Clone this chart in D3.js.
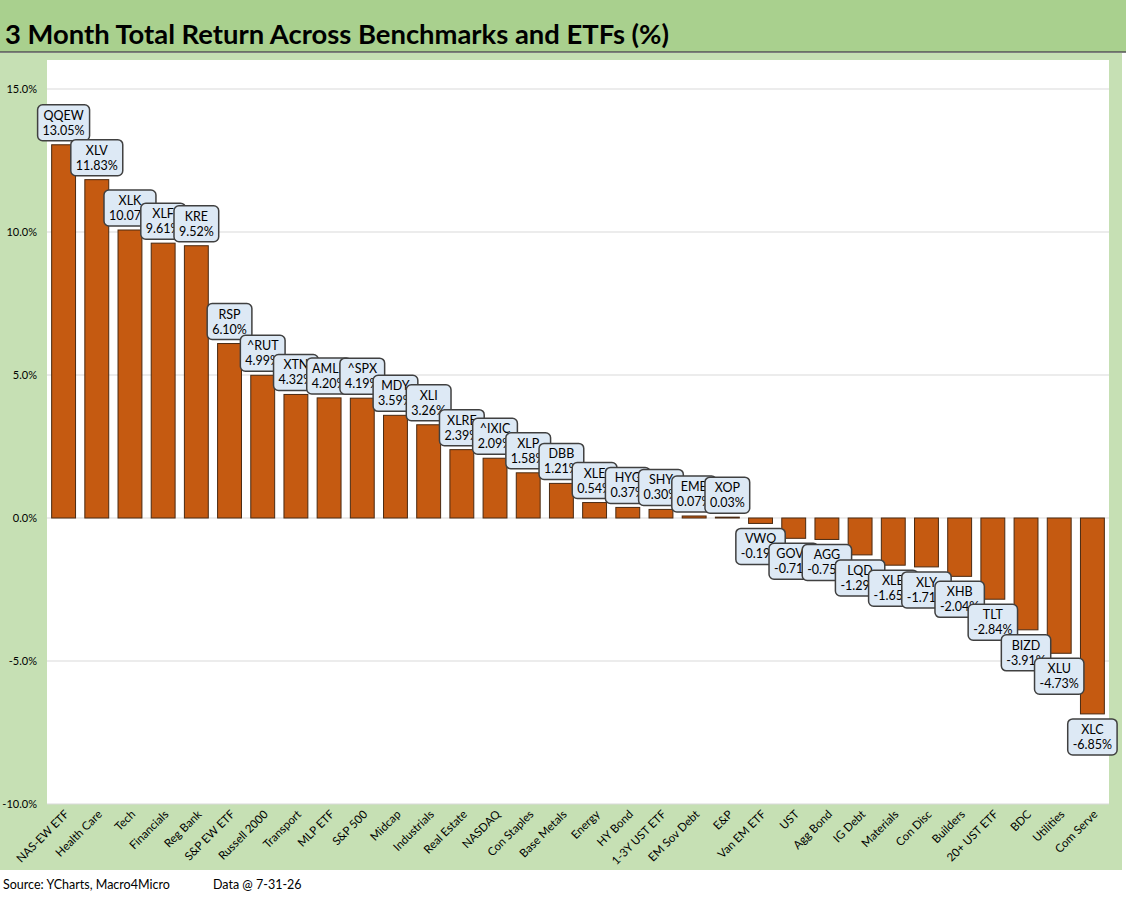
<!doctype html>
<html>

<head>
    <meta charset="UTF-8">
    <title>3 Month Total Return</title>
    <script src="https://d3js.org/d3.v7.min.js"></script>
    <style>
        body {
            margin: 0;
            background: #ffffff;
        }

        text {
            font-family: Lato, "Open Sans", sans-serif;
        }
    </style>
</head>

<body>
    <svg width="1126" height="897"></svg>

    <script>
        // data
        var categories = ["NAS-EW ETF", "Health Care", "Tech", "Financials", "Reg Bank", "S&P EW ETF", "Russell 2000",
            "Transport", "MLP ETF", "S&P 500", "Midcap", "Industrials", "Real Estate", "NASDAQ", "Con Staples",
            "Base Metals", "Energy", "HY Bond", "1-3Y UST ETF", "EM Sov Debt", "E&P", "Van EM ETF", "UST",
            "Agg Bond", "IG Debt", "Materials", "Con Disc", "Builders", "20+ UST ETF", "BDC", "Utilities", "Com Serve"];
        var tickers = ["QQEW", "XLV", "XLK", "XLF", "KRE", "RSP", "^RUT", "XTN", "AMLP", "^SPX", "MDY", "XLI", "XLRE",
            "^IXIC", "XLP", "DBB", "XLE", "HYG", "SHY", "EMB", "XOP", "VWO", "GOVT", "AGG", "LQD", "XLB", "XLY",
            "XHB", "TLT", "BIZD", "XLU", "XLC"];
        var returns = [13.05, 11.83, 10.07, 9.61, 9.52, 6.10, 4.99, 4.32, 4.20, 4.19, 3.59, 3.26, 2.39, 2.09, 1.58,
            1.21, 0.54, 0.37, 0.30, 0.07, 0.03, -0.19, -0.71, -0.75, -1.29, -1.65, -1.71, -2.04, -2.84, -3.91,
            -4.73, -6.85];
        var yTicks = [-10, -5, 0, 5, 10, 15];

        var svg = d3.select("svg");

        // backgrounds
        svg.append("rect").attr("x", 0).attr("y", 53).attr("width", 1122).attr("height", 817).attr("fill", "#c6e0b4");
        svg.append("rect").attr("x", 0).attr("y", 0).attr("width", 1126).attr("height", 52).attr("fill", "#a9d08e");
        svg.append("line").attr("x1", 0).attr("x2", 1126).attr("y1", 52).attr("y2", 52)
            .attr("stroke", "#555").attr("stroke-width", 1.5);
        svg.append("rect").attr("x", 47).attr("y", 60).attr("width", 1062).attr("height", 744).attr("fill", "#ffffff");

        svg.append("text")
            .attr("x", 5).attr("y", 44)
            .attr("font-size", "27.4px").attr("font-weight", "bold").attr("fill", "#000")
            .text("3 Month Total Return Across Benchmarks and ETFs (%)");

        var x = d3.scaleBand().domain(categories).range([47, 1109]).paddingInner(0.28).paddingOuter(0.14);
        var y = d3.scaleLinear().domain([-10, 15]).range([804, 89]);

        // grid
        svg.append("g").selectAll("line").data(yTicks).enter().append("line")
            .attr("x1", 47).attr("x2", 1109)
            .attr("y1", function(d) { return y(d); })
            .attr("y2", function(d) { return y(d); })
            .attr("stroke", "#d9d9d9").attr("stroke-width", 1.2);

        // y axis
        var yAxis = d3.axisLeft(y).tickValues(yTicks).tickSize(0).tickPadding(0)
            .tickFormat(function(d) { return d.toFixed(1) + "%"; });
        var gy = svg.append("g").attr("transform", "translate(37,0)").call(yAxis);
        gy.select(".domain").remove();
        gy.selectAll("text").attr("font-size", "11px").attr("fill", "#000")
            .style("font-family", "Lato, 'Open Sans', sans-serif");

        // bars
        svg.append("g").selectAll("rect").data(returns).enter().append("rect")
            .attr("x", function(d, i) { return x(categories[i]); })
            .attr("width", x.bandwidth())
            .attr("y", function(d) { return y(Math.max(0, d)); })
            .attr("height", function(d) { return Math.abs(y(d) - y(0)); })
            .attr("fill", "#c55a11")
            .attr("stroke", "#4a2a12").attr("stroke-width", 1);

        // x axis labels
        var xAxis = d3.axisBottom(x).tickSize(0).tickPadding(0);
        var gx = svg.append("g").attr("transform", "translate(0,808)").call(xAxis);
        gx.select(".domain").remove();
        gx.selectAll("text")
            .attr("font-size", "11.5px").attr("fill", "#000")
            .style("font-family", "Lato, 'Open Sans', sans-serif")
            .attr("text-anchor", "end")
            .attr("dy", "0")
            .attr("transform", "translate(6,7) rotate(-45)");

        // data labels
        var labels = svg.append("g");
        returns.forEach(function(v, i) {
            var cx = x(categories[i]) + x.bandwidth() / 2;
            var g = labels.append("g");
            var box = g.append("rect");
            var t1 = g.append("text").attr("x", cx).attr("text-anchor", "middle")
                .attr("font-size", "12.5px").attr("fill", "#000").text(tickers[i]);
            var t2 = g.append("text").attr("x", cx).attr("text-anchor", "middle")
                .attr("font-size", "12.5px").attr("fill", "#000").text(v.toFixed(2) + "%");
            var w = Math.max(t1.node().getComputedTextLength(), t2.node().getComputedTextLength()) + 10;
            var h = 36;
            var top = v >= 0 ? y(v) - 4 - h : y(v) + 5;
            box.attr("x", cx - w / 2).attr("y", top).attr("width", w).attr("height", h)
                .attr("rx", 5).attr("ry", 5)
                .attr("fill", "#dde9f5").attr("stroke", "#404040").attr("stroke-width", 1.5);
            t1.attr("y", top + 15);
            t2.attr("y", top + 30);
        });

        // footer
        svg.append("text").attr("x", 3).attr("y", 889).attr("font-size", "12.5px").attr("fill", "#000")
            .text("Source: YCharts, Macro4Micro");
        svg.append("text").attr("x", 213).attr("y", 889).attr("font-size", "12.5px").attr("fill", "#000")
            .text("Data @ 7-31-26");
    </script>
</body>

</html>
